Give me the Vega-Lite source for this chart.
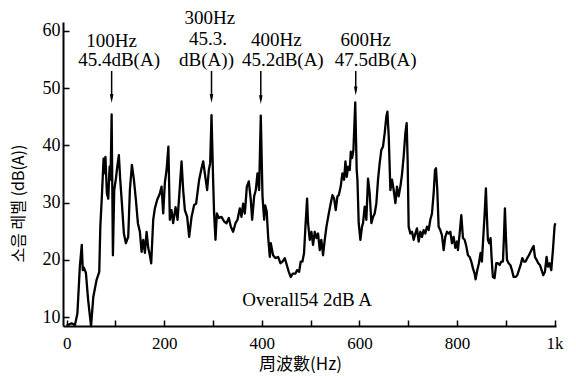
{
  "$schema": "https://vega.github.io/schema/vega-lite/v6.json",
  "width": 493,
  "height": 304,
  "autosize": {"type": "none"},
  "padding": {"left": 63, "top": 22, "right": 20, "bottom": 50},
  "background": "white",
  "config": {
    "view": {"stroke": null},
    "axis": {"domainColor": "black", "domainWidth": 2, "tickColor": "black", "tickWidth": 1.5, "labelColor": "black", "titleColor": "black", "grid": false, "labelFont": "Liberation Serif", "labelOverlap": false, "labelFlush": false}
  },
  "datasets": {
    "spectrum": [
      {"hz":0,"db":8.5},{"hz":10,"db":8.9},{"hz":17,"db":8.6},{"hz":22,"db":10.6},{"hz":27,"db":18.8},{"hz":31,"db":22.6},{"hz":33,"db":18.2},{"hz":35.5,"db":18.6},{"hz":39.5,"db":17.7},{"hz":44,"db":13},{"hz":50,"db":8.4},{"hz":54.6,"db":13.5},{"hz":61.4,"db":16.5},{"hz":66.8,"db":17.9},{"hz":69,"db":25.8},{"hz":72.3,"db":31.3},{"hz":75.7,"db":37.7},{"hz":78.4,"db":35.1},{"hz":79.5,"db":38},{"hz":82.5,"db":31.6},{"hz":85.3,"db":30.7},{"hz":88,"db":36.3},{"hz":90,"db":34},{"hz":92.2,"db":45.4},{"hz":94.8,"db":20.8},{"hz":97.5,"db":32.2},{"hz":101,"db":34.2},{"hz":103.7,"db":36.3},{"hz":107,"db":38.3},{"hz":109.8,"db":34},{"hz":113.2,"db":29.9},{"hz":117.3,"db":24.6},{"hz":121.4,"db":22.9},{"hz":126.2,"db":24},{"hz":129.6,"db":32.2},{"hz":133.7,"db":36.6},{"hz":137.8,"db":34},{"hz":141.9,"db":30.5},{"hz":146,"db":26.4},{"hz":150.1,"db":24.9},{"hz":153.6,"db":21.4},{"hz":157,"db":23.5},{"hz":160.4,"db":21.2},{"hz":163.8,"db":24.9},{"hz":167.2,"db":22.1},{"hz":170.6,"db":20.8},{"hz":173.3,"db":19.4},{"hz":177.4,"db":27},{"hz":180.8,"db":29},{"hz":185.6,"db":30.5},{"hz":191,"db":31.6},{"hz":194.5,"db":32.8},{"hz":197.9,"db":28.1},{"hz":201.3,"db":33.5},{"hz":204.8,"db":35.7},{"hz":208.5,"db":39.8},{"hz":211.5,"db":27},{"hz":214.9,"db":28.7},{"hz":218.3,"db":26.4},{"hz":223.2,"db":29.2},{"hz":227.3,"db":27},{"hz":232,"db":32.8},{"hz":235.5,"db":37.2},{"hz":238.8,"db":32.2},{"hz":242.3,"db":28.7},{"hz":247,"db":27.5},{"hz":251.1,"db":24},{"hz":256,"db":27.5},{"hz":261.3,"db":29.6},{"hz":265.3,"db":29.8},{"hz":271.6,"db":34},{"hz":276.5,"db":36},{"hz":279.8,"db":37.2},{"hz":283.2,"db":35.1},{"hz":288,"db":32.2},{"hz":291.4,"db":35.7},{"hz":294.2,"db":36.9},{"hz":296.9,"db":45.3},{"hz":300.2,"db":34},{"hz":302.2,"db":28.1},{"hz":305.1,"db":23.5},{"hz":307.8,"db":28.1},{"hz":311.9,"db":27.3},{"hz":317.4,"db":27.5},{"hz":322.8,"db":26.7},{"hz":327.6,"db":26.4},{"hz":332.4,"db":27.3},{"hz":336.5,"db":25.8},{"hz":341.2,"db":24.9},{"hz":346,"db":26.4},{"hz":350.2,"db":27},{"hz":354.9,"db":29},{"hz":358.3,"db":27.5},{"hz":361.7,"db":29.8},{"hz":365.2,"db":28.1},{"hz":369.3,"db":32.8},{"hz":373.3,"db":33.7},{"hz":377.4,"db":30.5},{"hz":380.2,"db":27},{"hz":384.3,"db":31.1},{"hz":387.7,"db":32.2},{"hz":391.1,"db":35.1},{"hz":394.5,"db":32.2},{"hz":397.9,"db":45.2},{"hz":401.4,"db":31.1},{"hz":404.8,"db":27},{"hz":407,"db":29.5},{"hz":410,"db":28.5},{"hz":413,"db":24},{"hz":416.4,"db":20.5},{"hz":418.4,"db":22.9},{"hz":423.1,"db":20.8},{"hz":427.9,"db":20.3},{"hz":433.4,"db":20.5},{"hz":438.3,"db":19.4},{"hz":442.4,"db":19.7},{"hz":447.1,"db":20.3},{"hz":451.2,"db":19.1},{"hz":455.3,"db":17.9},{"hz":459.4,"db":17},{"hz":463.5,"db":17.6},{"hz":469,"db":17.6},{"hz":472.4,"db":18.2},{"hz":476.5,"db":17.9},{"hz":479.8,"db":19.7},{"hz":483.3,"db":19.7},{"hz":486.6,"db":21.2},{"hz":489.4,"db":25.8},{"hz":492.8,"db":30.7},{"hz":494.8,"db":26.4},{"hz":498.3,"db":23.5},{"hz":501.7,"db":24.9},{"hz":505,"db":22.6},{"hz":508.5,"db":24.9},{"hz":512,"db":23.8},{"hz":515.3,"db":24.6},{"hz":518.8,"db":21.7},{"hz":522,"db":23.5},{"hz":525.5,"db":20.8},{"hz":529,"db":23.5},{"hz":532.5,"db":25.8},{"hz":537.3,"db":28.1},{"hz":541.3,"db":29.9},{"hz":544.8,"db":31.3},{"hz":548.2,"db":30.7},{"hz":551.5,"db":28.7},{"hz":555,"db":31.1},{"hz":557.7,"db":31.3},{"hz":561.7,"db":32.8},{"hz":565.2,"db":35.1},{"hz":568.6,"db":34},{"hz":571.4,"db":37.2},{"hz":574.1,"db":34.5},{"hz":576.9,"db":36.3},{"hz":580.3,"db":35.7},{"hz":582.4,"db":38.9},{"hz":585.1,"db":37.8},{"hz":587.8,"db":39.2},{"hz":591.5,"db":47.5},{"hz":594.5,"db":35.7},{"hz":596,"db":34},{"hz":598.6,"db":26.4},{"hz":602,"db":23.5},{"hz":605.4,"db":25.8},{"hz":607.5,"db":26.4},{"hz":610.9,"db":29.3},{"hz":614.3,"db":27},{"hz":617.7,"db":34.2},{"hz":621.1,"db":31.6},{"hz":624.6,"db":26.4},{"hz":628,"db":27.5},{"hz":631.4,"db":28.1},{"hz":634.8,"db":29.9},{"hz":638.2,"db":34},{"hz":641.6,"db":36.9},{"hz":645,"db":39.2},{"hz":648.4,"db":39.8},{"hz":651.8,"db":42.1},{"hz":655.2,"db":45},{"hz":657.4,"db":45.9},{"hz":660.2,"db":41.5},{"hz":663.5,"db":32.2},{"hz":666.9,"db":34},{"hz":670.3,"db":32.2},{"hz":673.8,"db":29.9},{"hz":677.1,"db":32.8},{"hz":680.5,"db":31.1},{"hz":684,"db":32.8},{"hz":687.3,"db":34.9},{"hz":690.7,"db":38},{"hz":694.2,"db":42.1},{"hz":696.9,"db":43.9},{"hz":698.9,"db":37.5},{"hz":701,"db":25.8},{"hz":704.4,"db":24.6},{"hz":707.8,"db":24.9},{"hz":711.3,"db":23.5},{"hz":714.7,"db":24.6},{"hz":718,"db":25.5},{"hz":721.5,"db":23.2},{"hz":725,"db":24.9},{"hz":728.3,"db":24},{"hz":731.7,"db":25.2},{"hz":735.1,"db":24.6},{"hz":738.5,"db":25.8},{"hz":742,"db":25.2},{"hz":745.4,"db":27},{"hz":748.8,"db":28.1},{"hz":752.2,"db":31.6},{"hz":755,"db":35.7},{"hz":757,"db":36},{"hz":759.7,"db":32.2},{"hz":762.4,"db":25.8},{"hz":765.8,"db":25.2},{"hz":769.2,"db":24.3},{"hz":772.7,"db":21.7},{"hz":776.1,"db":24},{"hz":779.5,"db":24.9},{"hz":782.9,"db":24.6},{"hz":786.4,"db":24.9},{"hz":789.8,"db":22.9},{"hz":793.2,"db":24},{"hz":796.6,"db":22.1},{"hz":800,"db":23.2},{"hz":802,"db":21.7},{"hz":805.5,"db":24.6},{"hz":808.9,"db":27.8},{"hz":812.3,"db":23.8},{"hz":815.7,"db":23.5},{"hz":819.1,"db":22.4},{"hz":822.5,"db":20.8},{"hz":826,"db":20.5},{"hz":829.4,"db":19.7},{"hz":832.8,"db":18.5},{"hz":836.2,"db":17.6},{"hz":838.2,"db":16.6},{"hz":841.7,"db":18.2},{"hz":845,"db":19.4},{"hz":848.4,"db":21.2},{"hz":851.1,"db":19.7},{"hz":854,"db":24},{"hz":856.8,"db":28.1},{"hz":859.3,"db":32.5},{"hz":861.4,"db":27.5},{"hz":863.4,"db":23.5},{"hz":866.2,"db":22.9},{"hz":868.9,"db":23.8},{"hz":870.9,"db":20.5},{"hz":873.6,"db":17},{"hz":877.1,"db":16.8},{"hz":880.6,"db":19.4},{"hz":884,"db":19.4},{"hz":887.4,"db":19.1},{"hz":890.9,"db":19.7},{"hz":894.3,"db":19.7},{"hz":896.3,"db":24},{"hz":898.3,"db":29},{"hz":900.4,"db":24},{"hz":902.5,"db":20},{"hz":905.8,"db":19.4},{"hz":909.3,"db":19.1},{"hz":912.7,"db":18.2},{"hz":916.1,"db":17},{"hz":920.2,"db":17},{"hz":923.6,"db":17.3},{"hz":927,"db":18.2},{"hz":930.5,"db":19.1},{"hz":933.9,"db":20.3},{"hz":937.3,"db":19.7},{"hz":940.7,"db":19.7},{"hz":944.1,"db":20.3},{"hz":947.5,"db":20.8},{"hz":951,"db":21.4},{"hz":954.4,"db":22},{"hz":957.1,"db":22.4},{"hz":959.9,"db":20.5},{"hz":963.2,"db":20},{"hz":966.6,"db":19.4},{"hz":970,"db":19.1},{"hz":973.5,"db":18.2},{"hz":976.9,"db":17.3},{"hz":980.3,"db":17.9},{"hz":983.7,"db":20.5},{"hz":986.5,"db":18.8},{"hz":989.9,"db":19.4},{"hz":993.3,"db":18.2},{"hz":996.7,"db":21.7},{"hz":1000,"db":25.8},{"hz":1001.5,"db":26.4}
    ],
    "arrows": [
      {"hz": 92.2, "top": 53.0, "tip": 48.2},
      {"hz": 296.9, "top": 53.0, "tip": 48.2},
      {"hz": 397.9, "top": 53.0, "tip": 48.0},
      {"hz": 592.5, "top": 53.0, "tip": 49.5}
    ],
    "labels": [
      {"hz": 92.2, "db": 58.3, "txt": "100Hz"},
      {"hz": 107.5, "db": 54.9, "txt": "45.4dB(A)"},
      {"hz": 293.5, "db": 62.3, "txt": "300Hz"},
      {"hz": 289.5, "db": 58.6, "txt": "45.3."},
      {"hz": 286.7, "db": 55.0, "txt": "dB(A))"},
      {"hz": 430.0, "db": 58.4, "txt": "400Hz"},
      {"hz": 443.0, "db": 54.9, "txt": "45.2dB(A)"},
      {"hz": 613.0, "db": 58.4, "txt": "600Hz"},
      {"hz": 633.4, "db": 54.9, "txt": "47.5dB(A)"},
      {"hz": 493.0, "db": 13.0, "txt": "Overall54 2dB A"}
    ]
  },
  "layer": [
    {
      "data": {"name": "spectrum"},
      "mark": {"type": "line", "color": "black", "strokeWidth": 2.3, "strokeJoin": "round", "clip": false},
      "encoding": {
        "x": {
          "field": "hz", "type": "quantitative",
          "scale": {"domain": [-7.5, 1003], "nice": false, "zero": false},
          "axis": {
            "values": [0, 100, 200, 300, 400, 500, 600, 700, 800, 900, 1000],
            "labelExpr": "datum.value % 200 == 0 ? (datum.value == 1000 ? '1k' : datum.label) : ''",
            "tickSize": -6, "labelPadding": 15, "labelFontSize": 17,
            "title": "周波數(Hz)", "titleFont": "Noto Sans CJK TC", "titleFontSize": 17, "titleFontWeight": "normal",
            "titleX": 237, "titleY": 38, "titleBaseline": "middle", "titleAlign": "center"
          }
        },
        "y": {
          "field": "db", "type": "quantitative",
          "scale": {"domain": [8.43, 61.57], "nice": false, "zero": false},
          "axis": {
            "values": [10, 20, 30, 40, 50, 60],
            "tickSize": -6, "labelPadding": 9, "labelFontSize": 18,
            "title": "소음 레벨 (dB(A))", "titleFont": "Noto Sans CJK KR", "titleFontSize": 16, "titleFontWeight": "normal",
            "titleX": -45, "titleY": 181, "titleAngle": 270, "titleBaseline": "middle", "titleAlign": "center"
          }
        }
      }
    },
    {
      "data": {"name": "arrows"},
      "mark": {"type": "rule", "color": "black", "strokeWidth": 1.5},
      "encoding": {
        "x": {"field": "hz", "type": "quantitative"},
        "y": {"field": "top", "type": "quantitative"},
        "y2": {"field": "tip"}
      }
    },
    {
      "data": {"name": "arrows"},
      "mark": {"type": "point", "shape": "M-0.4,-1L0.4,-1L0,1Z", "filled": true, "color": "black", "size": 80, "opacity": 1},
      "encoding": {
        "x": {"field": "hz", "type": "quantitative"},
        "y": {"field": "tip", "type": "quantitative"}
      }
    },
    {
      "data": {"name": "labels"},
      "mark": {"type": "text", "font": "Liberation Serif", "fontSize": 19, "color": "black", "align": "center", "baseline": "middle"},
      "encoding": {
        "x": {"field": "hz", "type": "quantitative"},
        "y": {"field": "db", "type": "quantitative"},
        "text": {"field": "txt", "type": "nominal"}
      }
    }
  ]
}
